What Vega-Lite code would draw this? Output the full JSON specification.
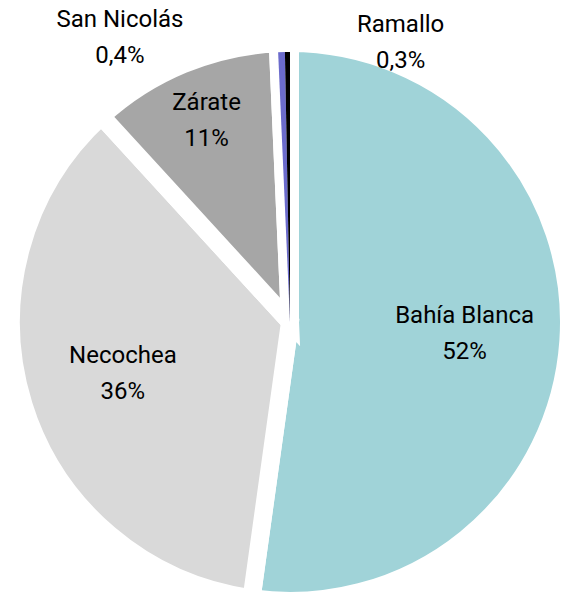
{
  "$schema": "https://vega.github.io/schema/vega-lite/v6.json",
  "width": 552,
  "height": 542,
  "autosize": {"type": "none"},
  "padding": {"left": 14, "top": 51, "right": 0, "bottom": 0},
  "background": "white",
  "config": {"view": {"stroke": null}},
  "data": {
    "values": [
      {"ciudad": "Bahía Blanca", "pct": 52.2, "orden": 1, "etiqueta": "Bahía Blanca\n52%"},
      {"ciudad": "Necochea", "pct": 36.0, "orden": 2, "etiqueta": "Necochea\n36%"},
      {"ciudad": "Zárate", "pct": 11.1, "orden": 3, "etiqueta": "Zárate\n11%"},
      {"ciudad": "San Nicolás", "pct": 0.4, "orden": 4, "etiqueta": "San Nicolás\n0,4%"},
      {"ciudad": "Ramallo", "pct": 0.3, "orden": 5, "etiqueta": "Ramallo\n0,3%"}
    ]
  },
  "encoding": {
    "theta": {"field": "pct", "type": "quantitative", "stack": true},
    "order": {"field": "orden", "type": "quantitative"}
  },
  "layer": [
    {
      "mark": {"type": "arc", "outerRadius": 279, "stroke": "white", "strokeWidth": 18},
      "encoding": {
        "color": {
          "field": "ciudad",
          "type": "nominal",
          "scale": {
            "domain": ["Bahía Blanca", "Necochea", "Zárate", "San Nicolás", "Ramallo"],
            "range": ["#a0d3d8", "#d9d9d9", "#a6a6a6", "#6b6bcc", "#000000"]
          },
          "legend": null
        }
      }
    },
    {
      "mark": {"type": "arc", "outerRadius": 270},
      "encoding": {
        "color": {"field": "ciudad", "type": "nominal", "legend": null},
        "opacity": {"condition": {"test": "datum.pct < 1", "value": 1}, "value": 0}
      }
    },
    {
      "mark": {"type": "text", "radius": 175, "dy": -18, "font": "Roboto", "fontSize": 24, "lineHeight": 36, "lineBreak": "\n", "color": "#000000", "align": "center", "baseline": "middle"},
      "encoding": {
        "detail": {"field": "ciudad", "type": "nominal"},
        "text": {"condition": {"test": "datum.ciudad === 'Bahía Blanca' || datum.ciudad === 'Necochea'", "field": "etiqueta", "type": "nominal"}, "value": ""}
      }
    },
    {
      "mark": {"type": "text", "radius": 218, "dy": -18, "font": "Roboto", "fontSize": 24, "lineHeight": 36, "lineBreak": "\n", "color": "#000000", "align": "center", "baseline": "middle"},
      "encoding": {
        "detail": {"field": "ciudad", "type": "nominal"},
        "text": {"condition": {"test": "datum.ciudad === 'Zárate'", "field": "etiqueta", "type": "nominal"}, "value": ""}
      }
    },
    {
      "mark": {"type": "text", "radius": 331, "thetaOffset": -0.508, "dy": -18, "font": "Roboto", "fontSize": 24, "lineHeight": 36, "lineBreak": "\n", "color": "#000000", "align": "center", "baseline": "middle"},
      "encoding": {
        "detail": {"field": "ciudad", "type": "nominal"},
        "text": {"condition": {"test": "datum.ciudad === 'San Nicolás'", "field": "etiqueta", "type": "nominal"}, "value": ""}
      }
    },
    {
      "mark": {"type": "text", "radius": 300, "thetaOffset": 0.387, "dy": -18, "font": "Roboto", "fontSize": 24, "lineHeight": 36, "lineBreak": "\n", "color": "#000000", "align": "center", "baseline": "middle"},
      "encoding": {
        "detail": {"field": "ciudad", "type": "nominal"},
        "text": {"condition": {"test": "datum.ciudad === 'Ramallo'", "field": "etiqueta", "type": "nominal"}, "value": ""}
      }
    }
  ]
}
